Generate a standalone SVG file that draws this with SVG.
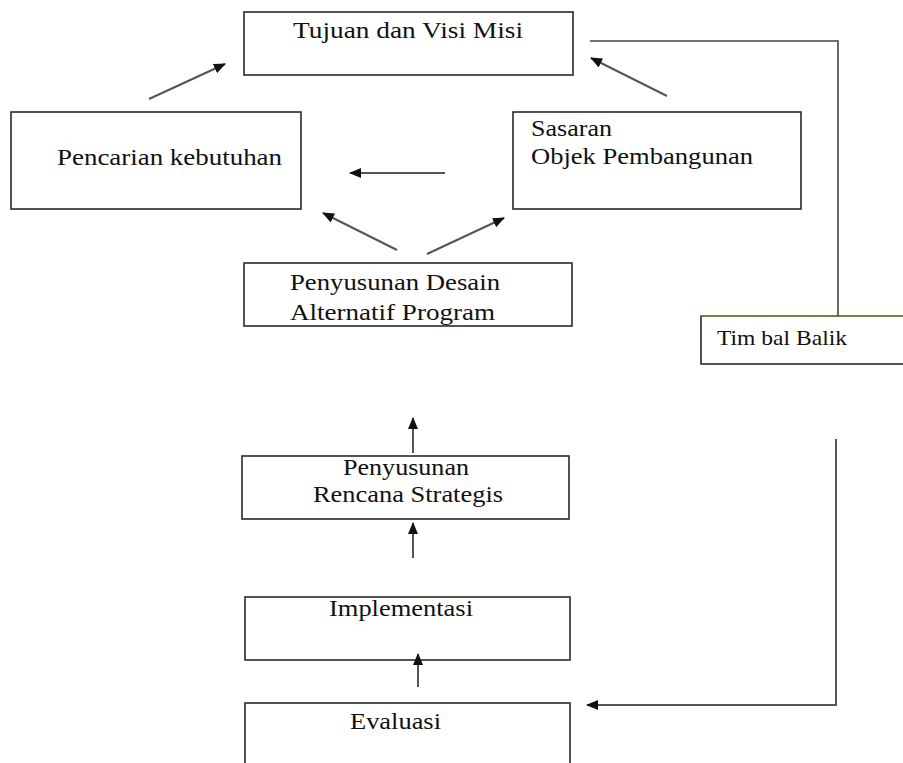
<svg xmlns="http://www.w3.org/2000/svg" width="903" height="763" viewBox="0 0 903 763">
  <style>
    .box { fill: #ffffff; stroke: #2a2a2a; stroke-width: 1.6; }
    .lbl { font-family: "Liberation Serif", "Times New Roman", serif; font-size: 24px; fill: #111111; }
    .small { font-size: 22px; }
    .conn { fill: none; stroke: #555555; stroke-width: 2; }
    .plain { fill: none; stroke: #444444; stroke-width: 1.6; }
  </style>
  <defs>
    <marker id="ah" markerUnits="userSpaceOnUse" markerWidth="12" markerHeight="10" refX="11" refY="5" orient="auto">
      <path d="M0,0 L12,5 L0,10 Z" fill="#111111"/>
    </marker>
  </defs>
  <rect width="903" height="763" fill="#ffffff"/>

  <g id="tujuan">
    <rect class="box" x="244" y="12" width="329" height="63"/>
    <text class="lbl" x="293" y="38" textLength="230" lengthAdjust="spacingAndGlyphs">Tujuan dan Visi Misi</text>
  </g>

  <g id="pencarian">
    <rect class="box" x="11" y="112" width="290" height="97"/>
    <text class="lbl" x="57" y="165" textLength="225" lengthAdjust="spacingAndGlyphs">Pencarian kebutuhan</text>
  </g>

  <g id="sasaran">
    <rect class="box" x="513" y="112" width="288" height="97"/>
    <text class="lbl" x="531" y="136" textLength="81" lengthAdjust="spacingAndGlyphs">Sasaran</text>
    <text class="lbl" x="531" y="164" textLength="222" lengthAdjust="spacingAndGlyphs">Objek Pembangunan</text>
  </g>

  <g id="desain">
    <rect class="box" x="244" y="263" width="328" height="63"/>
    <text class="lbl" x="290" y="290" textLength="210" lengthAdjust="spacingAndGlyphs">Penyusunan  Desain</text>
    <text class="lbl" x="290" y="320" textLength="205" lengthAdjust="spacingAndGlyphs">Alternatif Program</text>
  </g>

  <g id="timbal-balik">
    <rect class="box" x="701" y="316" width="206" height="48"/>
    <line x1="701" y1="316" x2="903" y2="316" stroke="#6a9a40" stroke-width="1.6"/>
    <text class="lbl small" x="717" y="345" textLength="130" lengthAdjust="spacingAndGlyphs">Tim bal Balik</text>
  </g>

  <g id="rencana">
    <rect class="box" x="242" y="456" width="327" height="63"/>
    <text class="lbl" x="343" y="475" textLength="126" lengthAdjust="spacingAndGlyphs">Penyusunan</text>
    <text class="lbl" x="313" y="502" textLength="190" lengthAdjust="spacingAndGlyphs">Rencana Strategis</text>
  </g>

  <g id="implementasi">
    <rect class="box" x="245" y="597" width="325" height="63"/>
    <text class="lbl" x="329" y="616" textLength="144" lengthAdjust="spacingAndGlyphs">Implementasi</text>
  </g>

  <g id="evaluasi">
    <rect class="box" x="245" y="703" width="325" height="70"/>
    <text class="lbl" x="350" y="729" textLength="91" lengthAdjust="spacingAndGlyphs">Evaluasi</text>
  </g>

  <g id="connectors">
    <line class="conn" x1="149" y1="99" x2="225" y2="64" marker-end="url(#ah)"/>
    <line class="conn" x1="667" y1="96" x2="591" y2="58" marker-end="url(#ah)"/>
    <line class="conn" x1="445" y1="173" x2="350" y2="173" marker-end="url(#ah)"/>
    <line class="conn" x1="397" y1="250" x2="323" y2="213" marker-end="url(#ah)"/>
    <line class="conn" x1="427" y1="254" x2="504" y2="218" marker-end="url(#ah)"/>
    <line class="conn" x1="413" y1="453" x2="413" y2="418" marker-end="url(#ah)"/>
    <line class="conn" x1="413" y1="558" x2="413" y2="523" marker-end="url(#ah)"/>
    <line class="conn" x1="418" y1="687" x2="418" y2="654" marker-end="url(#ah)"/>
    <polyline class="plain" points="590,41 838,41 838,316"/>
    <polyline class="conn" points="836,439 836,705 587,705" marker-end="url(#ah)"/>
  </g>
</svg>
